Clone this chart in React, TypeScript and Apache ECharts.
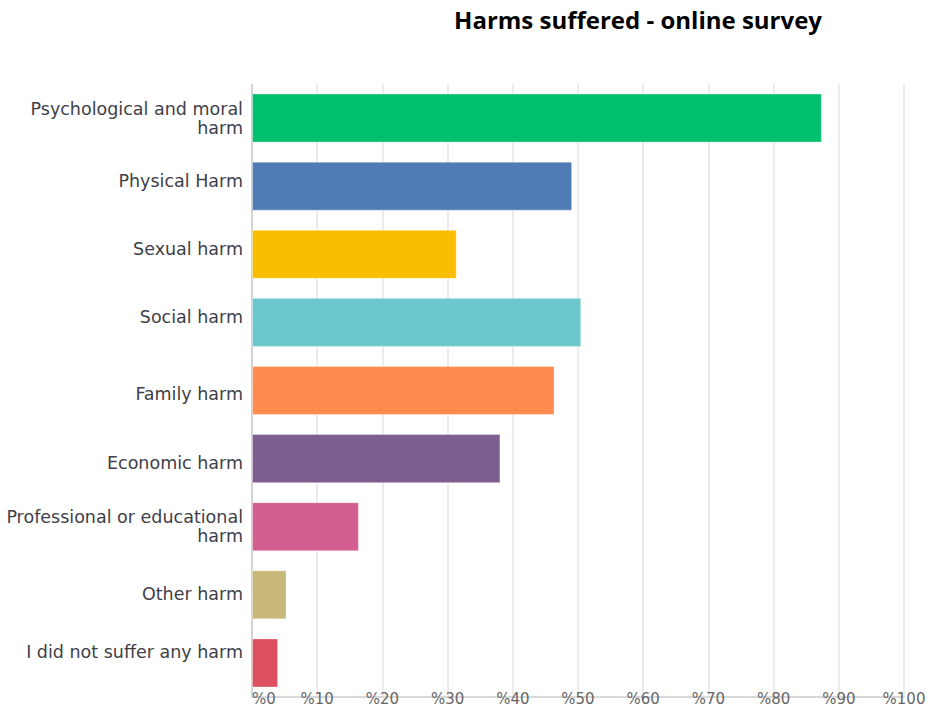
import React, { useEffect, useRef } from "react";
import * as echarts from "echarts";

const titleText = "Harms suffered - online survey";

const categories: string[] = [
  "Psychological and moral\nharm",
  "Physical Harm",
  "Sexual harm",
  "Social harm",
  "Family harm",
  "Economic harm",
  "Professional or educational\nharm",
  "Other harm",
  "I did not suffer any harm",
];

const values: number[] = [87.4, 49.1, 31.4, 50.5, 46.4, 38.1, 16.4, 5.3, 4.0];

const barColors: string[] = [
  "#00BF6F",
  "#507CB6",
  "#F9BE00",
  "#6BC8CD",
  "#FF8B4F",
  "#7D5E90",
  "#D25F90",
  "#C7B879",
  "#DB4F5E",
];

// vertical nudge of each category label (px, negative = up), as seen in the reference
const labelNudge: number[] = [-3, -5, -5, -5, 3, 4, 1, -1, -11];

const xMin = 0;
const xMax = 100;
const xInterval = 10;

const labelFont = {
  fontFamily: "DejaVu Sans",
  fontSize: 17.5,
  color: "#404048",
};

export default function App() {
  const ref = useRef<HTMLDivElement>(null);

  useEffect(() => {
    if (!ref.current) return;
    const chart = echarts.init(ref.current, undefined, { renderer: "svg" });
    const rich: Record<string, any> = {};
    labelNudge.forEach((d, i) => {
      rich["n" + i] = {
        ...labelFont,
        lineHeight: 19,
        padding: d < 0 ? [0, 0, -2 * d, 0] : [2 * d, 0, 0, 0],
      };
    });
    chart.setOption({
      animation: false,
      backgroundColor: "#ffffff",
      title: {
        text: titleText,
        left: 633,
        top: 2,
        textAlign: "center",
        textStyle: {
          fontFamily: "Open Sans",
          fontWeight: "bold",
          fontSize: 24,
          color: "#000000",
        },
      },
      grid: { left: 252, right: 34, top: 84, bottom: 13, containLabel: false },
      xAxis: {
        type: "value",
        min: xMin,
        max: xMax,
        interval: xInterval,
        axisLine: { show: true, lineStyle: { color: "#cccccc", width: 1.5 } },
        axisTick: { show: false },
        splitLine: { show: true, lineStyle: { color: "#e6e6e6", width: 1.5 } },
        axisLabel: {
          formatter: "%{value}",
          fontFamily: "DejaVu Sans",
          fontSize: 15,
          color: "#666666",
          margin: -6,
          alignMinLabel: "left",
        },
      },
      yAxis: {
        type: "category",
        data: categories,
        inverse: true,
        axisLine: { show: true, lineStyle: { color: "#cccccc", width: 1.5 } },
        axisTick: { show: false },
        splitLine: { show: false },
        axisLabel: {
          ...labelFont,
          lineHeight: 19,
          margin: 9,
          align: "right",
          formatter: (v: string, i: number) =>
            v.indexOf("\n") >= 0 ? v : "{n" + i + "|" + v + "}",
          rich,
        },
      },
      series: [
        {
          type: "bar",
          data: values.map((v, i) => ({
            value: v,
            itemStyle: { color: barColors[i] },
          })),
          barCategoryGap: "28%",
          itemStyle: {
            borderColor: "rgba(255,255,255,0.35)",
            borderWidth: 1,
          },
        },
      ],
    });
    return () => chart.dispose();
  }, []);

  return (
    <div
      ref={ref}
      style={{ position: "fixed", left: 0, top: 0, width: 938, height: 710 }}
    />
  );
}
